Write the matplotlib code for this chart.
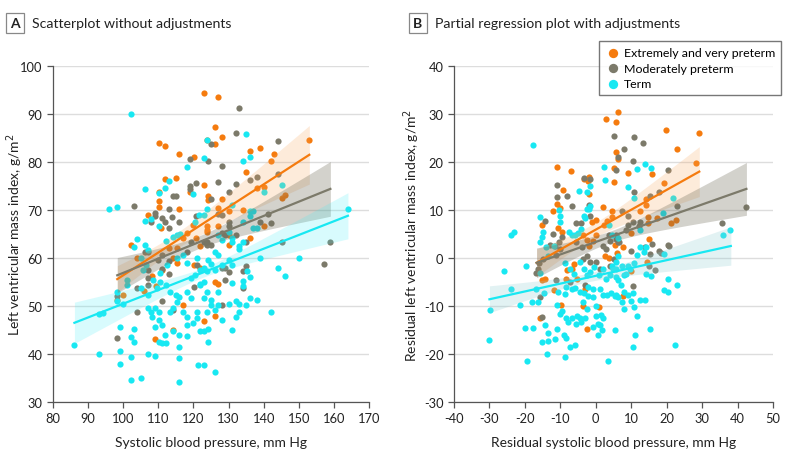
import numpy as np
import matplotlib.pyplot as plt

plt.rcParams['font.family'] = ['Lato', 'DejaVu Sans']
plt.rcParams['axes.unicode_minus'] = False

# ---- Panel A: raw values (SBP, mm Hg / LVMI, g/m2) ----
a_ext_x = [123.0, 110.1, 112.0, 116.0, 120.1, 112.0, 115.0, 123.0, 110.1, 110.1, 110.1, 116.0, 107.0, 119.0,
           124.1, 124.1, 102.1, 104.0, 108.1, 111.0, 109.2, 100.0, 98.1, 106.0, 117.0, 114.1, 109.0, 123.0,
           118.1, 117.0, 115.3, 114.1, 115.4, 120.6, 122.0, 120.2, 120.0, 123.8, 110.8, 113.1, 127.1, 126.1,
           128.0, 124.0, 126.1, 136.0, 139.0, 143.0, 142.1, 153.0, 135.0, 138.1, 140.0, 128.0, 145.1, 146.1,
           127.1, 130.1, 134.1, 124.0, 127.1, 140.0, 130.1, 130.1, 136.0, 124.0, 121.9, 126.1, 127.1, 126.1]
a_ext_y = [94.3, 84.0, 83.3, 81.6, 81.1, 76.5, 76.6, 75.3, 73.8, 71.9, 70.7, 70.3, 69.0, 73.8,
           73.0, 72.0, 62.8, 60.1, 56.3, 57.4, 54.1, 52.3, 51.3, 53.2, 50.2, 45.1, 43.1, 46.9,
           65.3, 64.2, 62.0, 59.9, 58.9, 64.1, 62.4, 58.5, 66.9, 65.8, 66.3, 62.0, 93.6, 87.2,
           85.3, 84.6, 83.7, 82.2, 83.0, 81.6, 80.3, 84.5, 78.0, 74.5, 74.7, 72.2, 72.5, 73.1,
           70.5, 69.7, 69.9, 66.7, 66.7, 66.7, 64.8, 62.7, 64.2, 65.5, 58.0, 55.1, 54.5, 48.0]

a_mod_x = [103.0, 119.0, 124.1, 120.8, 119.0, 119.0, 114.1, 115.0, 109.0, 109.0, 112.9, 114.0, 116.0, 111.0,
           112.0, 113.0, 108.0, 120.8, 106.1, 107.0, 107.0, 107.0, 111.0, 110.0, 113.0, 111.0, 104.0, 107.0,
           113.0, 118.1, 119.2, 120.2, 98.1, 98.1, 104.0, 111.0, 114.1, 123.8, 123.8, 120.9, 133.0, 132.0,
           125.1, 128.0, 144.1, 144.1, 138.1, 136.0, 127.1, 132.0, 130.1, 125.1, 127.0, 128.0, 130.1, 130.1,
           141.1, 139.0, 142.0, 128.0, 129.0, 132.0, 135.0, 122.9, 125.1, 145.1, 159.0, 157.1, 128.0, 129.0,
           130.1, 135.0, 134.1, 129.0, 134.1, 128.0]
a_mod_y = [70.8, 80.6, 80.3, 75.7, 75.1, 74.3, 73.0, 73.0, 69.4, 68.8, 70.3, 68.5, 67.6, 68.4,
           67.6, 66.2, 67.6, 68.8, 61.3, 61.3, 57.5, 55.9, 60.6, 59.6, 59.4, 57.8, 53.8, 54.4,
           56.6, 61.2, 63.4, 53.9, 52.0, 43.3, 48.8, 51.0, 49.1, 63.4, 62.7, 58.5, 91.3, 86.1,
           83.7, 79.2, 84.4, 77.6, 76.9, 76.2, 75.8, 75.4, 73.7, 72.2, 69.1, 69.0, 67.4, 66.6,
           69.1, 67.6, 67.3, 65.3, 64.8, 64.8, 63.4, 63.4, 62.7, 63.3, 63.4, 58.7, 58.0, 58.0,
           57.0, 58.4, 57.3, 55.5, 53.8, 50.3]

a_term_x = [102.1, 118.1, 123.0, 124.0, 106.1, 112.9, 110.1, 112.0, 120.0, 96.0, 98.1, 106.1, 108.0, 110.1,
            104.0, 106.1, 107.0, 105.0, 103.0, 112.2, 114.1, 115.2, 116.2, 120.4, 121.5, 123.0, 124.0, 98.1,
            101.1, 101.1, 98.1, 100.0, 99.0, 103.0, 102.1, 103.0, 99.0, 99.0, 102.1, 107.0, 109.0, 102.1,
            105.0, 116.0, 116.0, 116.0, 93.1, 86.1, 93.1, 94.1, 118.1, 121.2, 123.0, 124.1,
            105.0, 107.0, 108.1, 109.1, 110.1, 110.1, 111.0, 112.0, 110.1, 111.0, 112.2, 113.3, 114.1, 115.2,
            116.0, 118.1, 119.2, 121.0, 121.1, 118.1, 117.0, 114.9, 113.3, 112.2, 110.5, 109.5, 107.0, 107.8,
            109.1, 114.3, 116.0, 119.2, 120.4, 121.9, 122.9, 123.8, 124.1, 121.9, 120.0, 118.1, 123.0, 124.0,
            121.9, 121.0, 118.1, 117.1, 115.2, 112.4, 110.5, 108.6, 106.5, 105.5,
            135.0, 136.2, 134.1, 145.1, 140.0, 131.0, 136.2, 137.1, 136.2, 134.1, 137.1, 138.1, 130.1, 131.0,
            131.0, 133.0, 134.1, 128.0, 127.1, 164.0, 150.1, 139.0, 144.1, 146.1, 133.1, 126.1, 127.1, 124.2,
            125.1, 123.0, 126.1, 128.0, 130.1, 131.0, 135.2, 136.2, 131.0, 134.1, 134.1, 122.0, 124.0, 127.1,
            125.1, 125.1, 127.1, 130.1, 132.0, 133.1, 135.0, 136.2, 138.1, 142.1, 126.1, 128.0, 131.0, 132.0,
            133.1, 123.0, 126.1]
a_term_y = [89.9, 79.0, 80.9, 84.5, 74.4, 76.1, 73.5, 74.5, 73.3, 70.2, 70.6, 67.8, 68.1, 66.7,
            64.0, 62.8, 61.7, 59.9, 62.3, 63.5, 64.4, 64.8, 64.9, 67.4, 69.0, 69.0, 70.3, 53.0,
            55.4, 54.4, 51.0, 50.5, 45.7, 45.3, 43.6, 42.4, 40.6, 38.0, 39.4, 39.9, 39.6, 34.6,
            34.9, 34.2, 39.2, 41.5, 40.1, 41.9, 48.3, 48.6, 43.7, 37.8, 37.8, 42.4,
            53.7, 49.5, 47.8, 49.5, 48.8, 47.1, 46.0, 44.0, 42.6, 42.2, 42.2, 48.8, 49.5, 50.9,
            51.9, 53.0, 51.6, 48.8, 47.4, 47.8, 48.8, 52.3, 53.0, 54.4, 55.1, 53.7, 52.3, 48.8,
            45.7, 44.7, 44.0, 55.8, 56.5, 54.4, 51.6, 48.8, 45.3, 44.7, 46.4, 46.0, 54.9, 57.2,
            57.5, 59.9, 58.9, 60.6, 59.9, 58.5, 56.8, 55.4, 58.5, 57.5,
            85.8, 81.0, 80.3, 75.2, 73.7, 71.0, 69.8, 69.8, 68.8, 67.4, 66.3, 66.2, 65.5, 64.2,
            63.3, 62.6, 63.3, 63.7, 64.8, 70.3, 60.1, 60.1, 58.0, 56.3, 61.9, 61.3, 60.6, 59.6,
            58.7, 58.0, 57.5, 58.5, 59.6, 58.5, 57.3, 56.1, 54.7, 55.3, 54.2, 54.5, 53.0, 53.0,
            51.3, 50.2, 50.3, 50.5, 51.0, 50.5, 50.2, 51.6, 51.2, 48.8, 49.2, 47.0, 44.9, 47.7,
            48.7, 44.8, 36.3]

# ---- Panel B: residuals ----
b_ext_x = [6.4, 2.8, 5.7, 5.8, 6.4, -10.8, -7.0, 5.1, 5.1, -3.2, -2.1, -1.9, -9.2, -10.8, -10.2, -1.9,
           -12.1, -15.3, 2.1, -10.6, -9.6, -1.0, 0.2, 2.3, 3.2, 4.7, 0.2, -0.8, -3.6, -2.5, -1.9, 2.6,
           3.8, -6.2, -6.6, -8.1, -8.3, -11.9, -14.3, -15.1, -5.3, -3.1, -9.8, -3.6, 0.9, -15.8, -2.6,
           19.8, 29.2, 22.8, 16.0, 9.1, 28.3, 19.2, 14.2, 14.3, 12.6, 14.7, 17.4, 14.7, 4.7, 21.1, 22.6,
           9.8, 15.1, 5.3, 6.0, 7.7, 14.5, 10.0, 7.7]
b_ext_y = [30.5, 28.9, 28.4, 22.0, 20.6, 18.9, 18.1, 18.7, 15.8, 16.5, 16.1, 16.9, 14.1, 11.3, 10.5, 13.4,
           9.7, 6.8, 10.6, 6.2, 5.5, 7.6, 8.0, 6.9, 7.8, 8.6, 4.7, 3.6, 4.8, 3.7, 2.6, 0.5,
           0.0, -1.3, -2.2, -2.5, -4.3, -6.7, -4.3, -4.5, -4.3, -6.4, -9.7, -9.9, -10.2, -12.5, -14.7,
           26.7, 26.0, 22.7, 17.6, 17.7, 19.8, 15.6, 12.2, 11.1, 9.7, 8.6, 8.3, 7.3, 9.7, 7.2, 7.9,
           5.2, 3.9, 2.7, 1.0, 2.2, -0.9, -2.7, -8.0]

b_mod_x = [5.1, -10.9, -10.8, -8.1, -3.4, -1.5, -6.6, -1.9, -14.2, -5.5, -4.2, -1.7, -9.6, -10.4, -11.5,
           -10.0, -11.1, -13.0, -14.9, -16.3, -17.0, -5.5, -4.0, -2.6, -3.6, -1.5, 0.2, 1.9, 3.0, 4.0,
           5.8, 6.2, -11.1, -7.4, -3.0, -15.7, -15.1, 1.3, 4.0, 10.9, 13.4, 8.1, 6.4, 5.8, 10.4, 20.4,
           10.9, 15.3, 17.7, 23.0, 35.5, 42.3, 7.4, 9.2, 10.4, 12.1, 12.6, 9.0, 8.4, 3.8, 5.7, 6.6,
           13.8, 16.0, 15.3, 20.4, 20.6, 17.9, 18.3, 10.0, 14.9, 16.6, 10.6, 5.1, -16.0, -12.0]
b_mod_y = [25.4, 15.3, 12.7, 12.9, 16.6, 16.5, 10.8, 11.1, 7.8, 7.3, 7.2, 8.7, 4.3, 3.3, 2.6,
           1.8, 0.6, 2.7, -0.2, -2.2, -3.1, 3.3, 2.3, 0.5, -0.2, -0.9, -0.9, 2.6, 1.9, 3.6,
           4.7, 3.3, -4.5, -5.0, -5.7, -8.1, -12.3, -2.2, -1.6, 25.2, 24.0, 22.7, 21.0, 18.4, 20.2, 18.4,
           13.8, 12.9, 13.8, 10.9, 7.3, 10.7, 9.7, 8.7, 7.6, 6.6, 7.6, 6.8, 5.8, 4.7, 4.0, 3.3,
           2.3, 3.0, 0.8, 2.8, 2.5, 1.5, 1.1, 1.4, -1.6, -2.4, -5.9, -0.2, -1.0, 5.0]

b_term_x = [-17.7, -24.0, -23.0, -25.8, -24.0, -29.8, -30.0, -21.5, -19.6, -19.4, -20.0, -17.7, -18.1,
            -16.2, -16.8, -14.7, -15.7, -15.8, -15.7, -15.3, -14.9, -14.0, -13.6, -11.9, -14.2, -13.4,
            -15.3, -13.6, -11.5, -13.8, -8.7, -7.4, -5.8, -10.8, -9.1, -8.3,
            -10.6, -8.7, -10.8, -9.6, -10.0, -8.3, -7.7, -6.6, -5.3, -4.5, -3.0, -4.2, -5.7, -2.5, -3.6,
            -2.1, -0.9, 0.2, 0.2, 1.5, 1.9, 0.6, -0.9, 0.6, 1.1, 1.7, -10.4, -10.2, -10.0, -7.5, -6.8,
            -5.8, -4.9, -4.3, -3.2, -2.6, -1.9, -1.5, -4.7, -3.0, 2.4, 2.5, -1.5, -2.6, 3.4, 5.3,
            -8.7, -7.4, -6.2, -4.5, -3.4, -2.6, -1.7, -0.6, 0.8, 2.1, 3.0, 4.0, 4.9, 5.8, 6.2,
            -8.3, -6.8, -5.8, -4.5, -3.4, -2.1, -0.8, 1.1, 2.1, 3.2, 4.3, 5.8,
            13.8, 11.5, 15.5, 9.2, 10.9, 21.7, 18.9, 12.5, 3.8, 4.7, 6.2, 12.6, 13.6, 11.7, 14.3, 19.2,
            10.9, 4.7, 5.8, 7.5, 9.1, 8.5, 9.6, 14.3, 15.7, 20.4, 23.0, 19.2, 20.4, 5.7, 6.4, 8.1,
            7.2, 5.3, 6.4, 8.1, 9.1, 10.4, 9.8, 10.9, 12.6, 13.8, 7.5, 7.9, 11.7, 11.1, 15.3, 10.4,
            22.3, 35.8, 37.9]
b_term_y = [23.6, 4.8, 5.4, -2.8, -6.4, -10.8, -17.0, -9.7, -1.6, -21.5, -14.6, -14.6, -9.2,
            -9.2, -6.4, -7.2, -3.1, 3.3, 8.6, 4.4, 5.5, 2.2, 0.5, 2.6, -14.0, -15.6,
            -17.5, -17.2, -16.8, -20.0, -20.6, -18.5, -18.1, -14.7, -16.1, -16.7,
            -7.0, -7.5, -9.7, -11.1, -11.7, -12.6, -13.3, -12.6, -12.0, -12.6, -12.5, -13.3, -13.8, -10.6, -9.2,
            -7.9, -8.2, -9.9, -12.0, -11.8, -12.6, -13.7, -14.3, -16.0, -14.0, -14.9, 9.9, 8.7, 7.5, 5.4, 4.7,
            4.7, 5.2, 6.1, 8.8, 10.2, 10.2, 10.9, 14.0, 8.4, 19.0, 16.3, 15.1, 13.7, -21.5, -15.0,
            -1.1, -2.2, -3.3, -0.9, -2.2, -3.6, -2.9, -1.9, -3.6, -2.2, -4.3, -3.6, -2.2, -0.9, 0.5,
            -6.1, -6.4, -6.3, -7.1, -7.2, -6.1, -6.4, -6.4, -7.8, -7.8, -7.2, -7.8,
            19.5, 18.6, 18.7, 14.8, 12.5, 12.5, 9.3, 5.8, 6.8, 4.7, 4.1, 2.3, 1.2, 0.7, 2.3, 0.8,
            -1.0, -1.6, -2.2, -1.6, -1.6, -3.3, -2.3, -3.4, -3.8, -4.3, -5.6, -6.7, -7.1, -4.0, -4.5, -3.6,
            -5.7, -7.9, -8.1, -7.1, -7.7, -7.2, -8.9, -10.3, -8.8, -8.8, -9.2, -10.6, -12.0, -16.1, -14.7, -18.6,
            -18.2, 4.7, 5.9]

# fitted lines:
# (x start, x end, y start, y end, CI half-width at start, narrowest, at end)
fit_a = {'ext': (98.3, 153.0, 55.6, 81.5, 2.8, 1.6, 6.1),
         'mod': (98.3, 159.0, 56.4, 74.4, 3.7, 1.3, 5.7),
         'term': (86.1, 164.0, 46.5, 68.8, 4.3, 1.0, 4.8)}
fit_b = {'ext': (-16.7, 29.2, -1.0, 18.0, 2.9, 1.5, 5.2),
         'mod': (-16.7, 42.5, -1.0, 14.4, 3.1, 1.2, 5.5),
         'term': (-30.0, 38.1, -8.6, 2.5, 2.8, 0.9, 4.0)}

labels = {'ext': 'Extremely and very preterm', 'mod': 'Moderately preterm', 'term': 'Term'}
colors = {'ext': '#F57B0E', 'mod': '#7C7A6A', 'term': '#18E8F2'}
band_a = {'ext': ('#F8A45A', 0.22), 'mod': ('#6E6A58', 0.30), 'term': ('#40EDF5', 0.20)}
band_b = {'ext': ('#F8A45A', 0.22), 'mod': ('#6E6A58', 0.30), 'term': ('#8CCDD2', 0.25)}


def draw_fit(ax, f, color, bcol, balpha):
    x0, x1, y0, y1, w0, wm, w1 = f
    a = np.sqrt(w0**2 - wm**2)
    b = np.sqrt(w1**2 - wm**2)
    xc = (a * x1 + b * x0) / (a + b)
    k = (a / (xc - x0))**2
    xs = np.linspace(x0, x1, 120)
    ys = y0 + (y1 - y0) * (xs - x0) / (x1 - x0)
    w = np.sqrt(wm**2 + k * (xs - xc)**2)
    ax.fill_between(xs, ys - w, ys + w, color=bcol, alpha=balpha, lw=0, zorder=3)
    ax.plot(xs, ys, color=color, lw=1.6, zorder=4)


def style(ax, xlim, ylim, xt, yt, xlabel, ylabel, ylab_x):
    ax.set_xlim(*xlim)
    ax.set_ylim(*ylim)
    ax.set_xticks(xt)
    ax.set_yticks(yt)
    for s in ['top', 'right']:
        ax.spines[s].set_visible(False)
    for s in ['left', 'bottom']:
        ax.spines[s].set_color('#555555')
        ax.spines[s].set_linewidth(0.9)
    ax.tick_params(colors='#555555', labelcolor='#222222', labelsize=9.3, length=4, width=0.9)
    ax.yaxis.grid(True, color='#DDDDDD', lw=1)
    ax.set_axisbelow(True)
    ax.set_xlabel(xlabel, fontsize=10, color='#222222', labelpad=8)
    ax.set_ylabel(ylabel, fontsize=10, color='#222222')
    ax.yaxis.set_label_coords(ylab_x, 0.5)


fig = plt.figure(figsize=(7.87, 4.6), dpi=100)
axA = fig.add_axes([53 / 787, 1 - 403 / 460, 316 / 787, 336 / 460])
axB = fig.add_axes([454 / 787, 1 - 403 / 460, 319 / 787, 336 / 460])

data_a = {'ext': (a_ext_x, a_ext_y), 'mod': (a_mod_x, a_mod_y), 'term': (a_term_x, a_term_y)}
data_b = {'ext': (b_ext_x, b_ext_y), 'mod': (b_mod_x, b_mod_y), 'term': (b_term_x, b_term_y)}

for key in ['ext', 'mod', 'term']:
    axA.scatter(*data_a[key], s=20, color=colors[key], lw=0, zorder=2, label=labels[key])
    axB.scatter(*data_b[key], s=20, color=colors[key], lw=0, zorder=2, label=labels[key])
for key in ['ext', 'mod', 'term']:
    draw_fit(axA, fit_a[key], colors[key], *band_a[key])
    draw_fit(axB, fit_b[key], colors[key], *band_b[key])

style(axA, (80, 170), (30, 100), range(80, 171, 10), range(30, 101, 10),
      'Systolic blood pressure, mm Hg', 'Left ventricular mass index, g/m$^2$', -0.088)
style(axB, (-40, 50), (-30, 40), range(-40, 51, 10), range(-30, 41, 10),
      'Residual systolic blood pressure, mm Hg', 'Residual left ventricular mass index, g/m$^2$', -0.1)

# panel titles
for px, letter, title in [(15, 'A', 'Scatterplot without adjustments'),
                          (418, 'B', 'Partial regression plot with adjustments')]:
    fig.text(px / 787, 1 - 24 / 460, letter, fontsize=10, fontweight='bold', ha='center', va='center',
             color='#222222', bbox=dict(boxstyle='square,pad=0.3', fc='white', ec='#888888', lw=0.9))
    fig.text((px + 17) / 787, 1 - 24 / 460, title, fontsize=10.2, ha='left', va='center', color='#222222')

leg = axB.legend(loc='upper left', bbox_to_anchor=(599 / 787, 1 - 42 / 460), bbox_transform=fig.transFigure,
                 fontsize=8.9, frameon=True, fancybox=False, borderaxespad=0, handletextpad=0.3,
                 labelspacing=0.35, borderpad=0.5, markerscale=1.5, handlelength=1.2)
leg.get_frame().set_edgecolor('#555555')
leg.get_frame().set_linewidth(1)

fig.savefig('out.png', dpi=100)
